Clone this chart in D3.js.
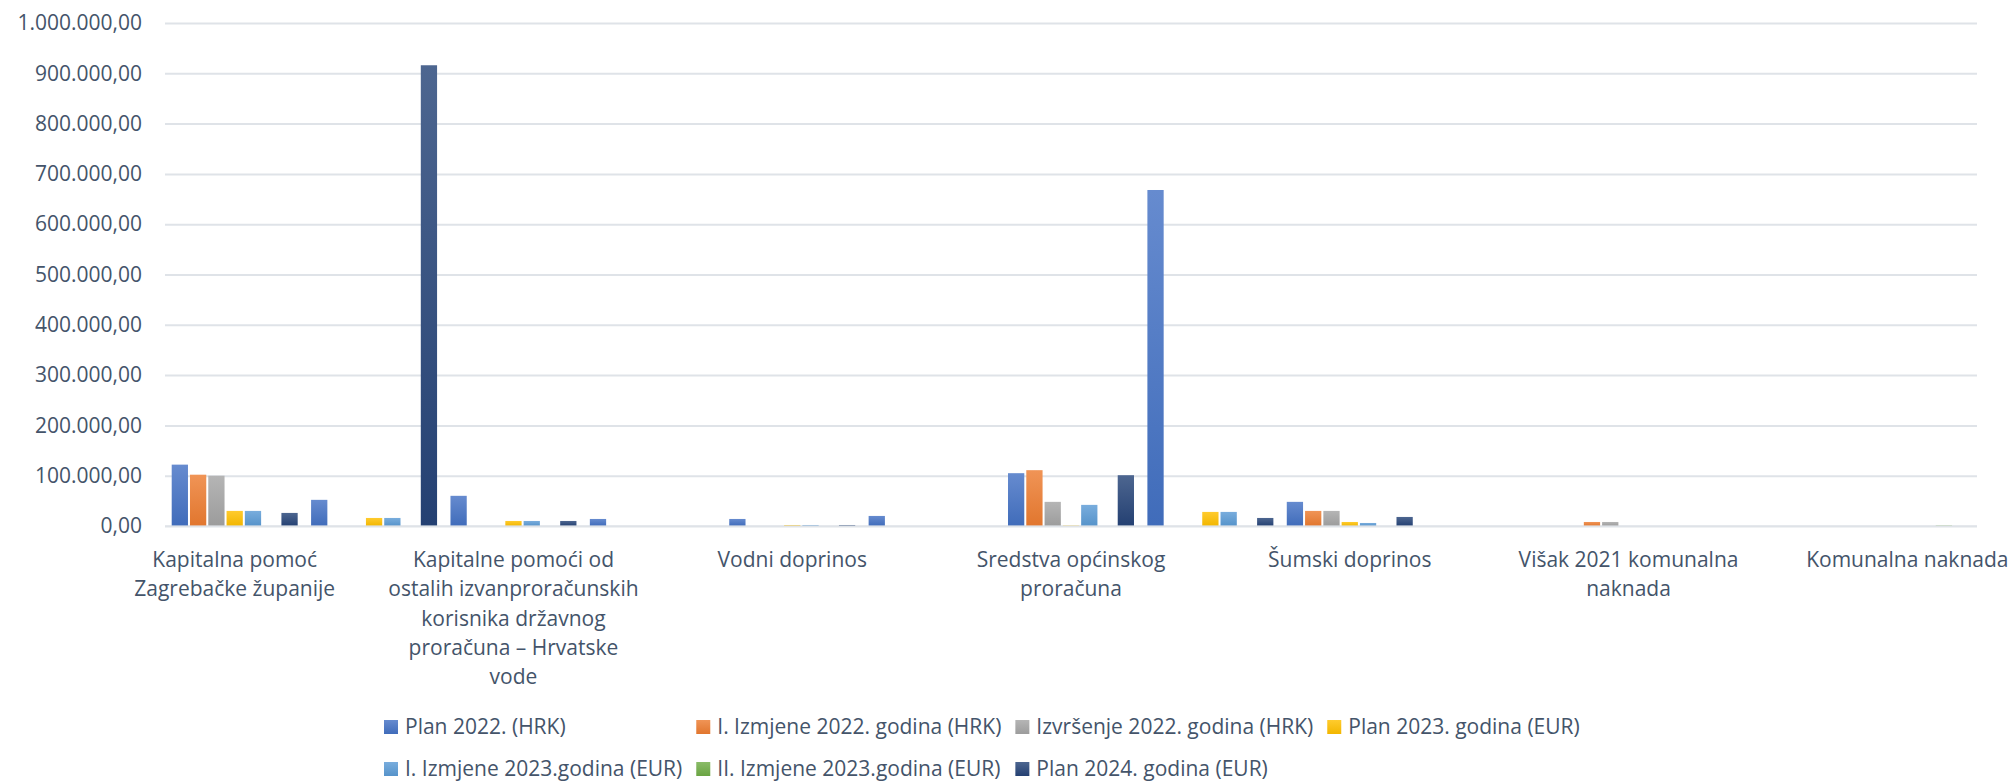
<!DOCTYPE html>
<html>
<head>
<meta charset="utf-8">
<script src="https://cdn.jsdelivr.net/npm/d3@7"></script>
<style>
    body { margin: 0; background: #fff; }
    text { font-family: "Open Sans", sans-serif; fill: #44546A; }
</style>
</head>
<body>
<svg id="chart" width="2011" height="784"></svg>
<script>
// Excel shows only every second category label; the skipped ones are not readable
const categories = [
    "Kapitalna pomoć\nZagrebačke županije",
    "",
    "Kapitalne pomoći od\nostalih izvanproračunskih\nkorisnika državnog\nproračuna – Hrvatske\nvode",
    "",
    "Vodni doprinos",
    "",
    "Sredstva općinskog\nproračuna",
    "",
    "Šumski doprinos",
    "",
    "Višak 2021 komunalna\nnaknada",
    "",
    "Komunalna naknada"
];

const seriesNames = [
    "Plan 2022. (HRK)",
    "I. Izmjene 2022. godina (HRK)",
    "Izvršenje 2022. godina (HRK)",
    "Plan 2023. godina (EUR)",
    "I. Izmjene 2023.godina (EUR)",
    "II. Izmjene 2023.godina (EUR)",
    "Plan 2024. godina (EUR)"
];

const plan2022      = [122000, 52000, 60000, 14000, 14000, 20000, 105000, 668000, 48000, 0, 0, 0, 0];
const izmjene2022   = [102000, 0, 0, 0, 0, 0, 111000, 0, 30000, 0, 8000, 0, 0];
const izvrsenje2022 = [100000, 0, 0, 0, 0, 0, 48000, 0, 30000, 0, 8000, 0, 0];
const plan2023      = [30000, 16000, 10000, 0, 2000, 0, 1000, 28000, 8000, 0, 0, 0, 0];
const izmjene2023   = [30000, 16000, 10000, 0, 2000, 0, 42000, 28000, 6000, 0, 0, 0, 0];
const iiIzmjene2023 = [0, 0, 0, 0, 0, 0, 0, 0, 0, 0, 0, 0, 1000];
const plan2024      = [26000, 916000, 10000, 0, 2000, 0, 101000, 16000, 18000, 0, 0, 0, 0];

const yTicks = [0, 100000, 200000, 300000, 400000, 500000, 600000, 700000, 800000, 900000, 1000000];

const colors = ["#4472C4", "#ED7D31", "#A5A5A5", "#FFC000", "#5B9BD5", "#70AD47", "#264478"];

const seriesValues = [plan2022, izmjene2022, izvrsenje2022, plan2023, izmjene2023, iiIzmjene2023, plan2024];

let svg = d3.select("#chart"),
    margin = {top: 23, right: 34, bottom: 258, left: 165},
    width = +svg.attr("width") - margin.left - margin.right,
    height = +svg.attr("height") - margin.top - margin.bottom,
    g = svg.append("g").attr("transform", "translate(" + margin.left + "," + margin.top + ")");

const hr = d3.formatLocale({decimal: ",", thousands: ".", grouping: [3], currency: ["", ""]});
const fmt = hr.format(",.2f");

let x0 = d3.scaleBand()
    .domain(d3.range(categories.length))
    .range([0, width]);

let groupPad = 6.7;
let x1 = d3.scaleBand()
    .domain(d3.range(seriesNames.length))
    .range([groupPad, x0.bandwidth() - groupPad])
    .paddingInner(0.11);

let y = d3.scaleLinear()
    .domain([0, 1000000])
    .range([height, 0]);

// gradients like the Office bar fill
let defs = svg.append("defs");
colors.forEach((c, i) => {
    let grad = defs.append("linearGradient")
        .attr("id", "grad" + i)
        .attr("x1", 0).attr("y1", 0).attr("x2", 0).attr("y2", 1);
    grad.append("stop").attr("offset", "0%").attr("stop-color", d3.interpolateRgb(c, "#fff")(0.18));
    grad.append("stop").attr("offset", "100%").attr("stop-color", d3.color(c).darker(0.15));
});

// y axis + gridlines
let yAxis = g.append("g")
    .attr("class", "axis axis--y")
    .call(d3.axisLeft(y).tickValues(yTicks).tickSize(-width).tickPadding(23).tickFormat(fmt));

yAxis.select(".domain").remove();
yAxis.selectAll(".tick line")
    .attr("stroke", "#DFE3E8")
    .attr("stroke-width", 2);
yAxis.selectAll(".tick text")
    .style("font-size", "21px")
    .attr("fill", "#44546A");

// bars
let serie = g.selectAll(".serie")
    .data(seriesValues)
    .enter().append("g")
    .attr("class", "serie")
    .attr("fill", (d, i) => "url(#grad" + i + ")");

serie.selectAll("rect")
    .data((d, i) => d.map((v, j) => ({s: i, c: j, v: v})))
    .enter().append("rect")
    .filter(d => d.v > 0)
    .attr("x", d => x0(d.c) + x1(d.s))
    .attr("y", d => y(d.v))
    .attr("width", x1.bandwidth())
    .attr("height", d => y(0) - y(d.v));

// horizontal axis line over the bars
g.append("line")
    .attr("x1", 0)
    .attr("x2", width)
    .attr("y1", y(0))
    .attr("y2", y(0))
    .attr("stroke", "#DFE3E8")
    .attr("stroke-width", 2)
    .attr("opacity", 0.6);

// category labels (multi line)
let lineH = 29.3;
let catLabels = g.append("g")
    .attr("class", "axis axis--x")
    .selectAll("text")
    .data(categories.map((c, i) => ({c: c, i: i})).filter(d => d.c !== ""))
    .enter().append("text")
    .attr("text-anchor", "middle")
    .style("font-size", "21px")
    .attr("transform", d => "translate(" + (x0(d.i) + x0.bandwidth() / 2) + "," + (height + 41) + ")");

catLabels.selectAll("tspan")
    .data(d => d.c.split("\n"))
    .enter().append("tspan")
    .attr("x", 0)
    .attr("y", (d, i) => i * lineH)
    .text(d => d);

// legend, 4 columns like Excel lays it out
let legend = svg.append("g").attr("class", "legend");
let nCols = 4, markerSize = 14, markerGap = 7, colGap = 14, rowH = 42;
let legendX = 384, legendY = 727;

let items = legend.selectAll(".item")
    .data(seriesNames.map((n, i) => ({n: n, i: i})))
    .enter().append("g")
    .attr("class", "item");

items.append("rect")
    .attr("width", markerSize)
    .attr("height", markerSize)
    .attr("y", -markerSize / 2)
    .attr("fill", d => "url(#grad" + d.i + ")");

items.append("text")
    .attr("x", markerSize + markerGap)
    .attr("dy", "0.35em")
    .style("font-size", "21px")
    .text(d => d.n);

let colW = d3.range(nCols).map(() => 0);
items.each(function(d) {
    let w = d3.select(this).select("text").node().getComputedTextLength();
    let col = d.i % nCols;
    colW[col] = Math.max(colW[col], markerSize + markerGap + w + colGap);
});
let colX = [legendX];
for (let c = 1; c < nCols; c++) colX.push(colX[c - 1] + colW[c - 1]);

items.attr("transform", d => "translate(" + colX[d.i % nCols] + "," + (legendY + Math.floor(d.i / nCols) * rowH) + ")");
</script>
</body>
</html>
